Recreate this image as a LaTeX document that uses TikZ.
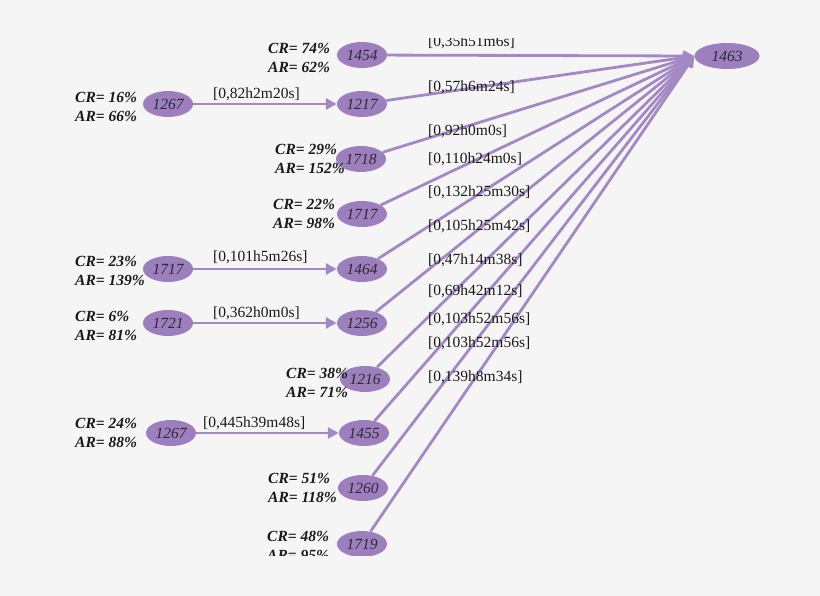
\documentclass[tikz,border=0pt]{standalone}
\usepackage{fontspec}
\setmainfont{Liberation Serif}
\usetikzlibrary{shapes.geometric,arrows.meta}
\definecolor{bg}{RGB}{245,245,246}
\definecolor{purp}{RGB}{157,127,190}
\definecolor{linec}{RGB}{163,136,196}
\definecolor{numc}{RGB}{45,40,55}
\definecolor{txt}{RGB}{25,25,25}
\tikzset{
  nd/.style={ellipse, fill=purp, draw=none, minimum width=50pt, minimum height=26pt, inner sep=0pt,
    font=\fontsize{15.5}{18}\selectfont\itshape, text=numc},
  big/.style={nd, minimum width=65pt},
  rates/.style={anchor=west, inner sep=0pt, align=left, text=txt,
    font=\fontsize{15.5}{19}\selectfont\bfseries\itshape},
  elab/.style={anchor=west, inner sep=0pt, text=txt, font=\fontsize{15.5}{18}\selectfont},
  edge/.style={draw=linec, line width=2.8pt, -{Triangle[length=11pt,width=11pt]}}
}
\begin{document}
\begin{tikzpicture}[x=1pt,y=-1pt]
\fill[bg] (0,0) rectangle (820,596);
\useasboundingbox (0,0) rectangle (820,596);
\begin{scope}
\clip (0,38.5) rectangle (820,555);
% target
\node[big] (t) at (727,56) {1463};
% middle column
\node[nd] (m1454) at (362,55) {1454};
\node[nd] (m1217) at (362,104) {1217};
\node[nd] (m1718) at (361,159) {1718};
\node[nd] (m1717) at (362,214) {1717};
\node[nd] (m1464) at (362,269) {1464};
\node[nd] (m1256) at (362,323) {1256};
\node[nd] (m1216) at (365,379) {1216};
\node[nd] (m1455) at (364,433) {1455};
\node[nd] (m1260) at (363,488) {1260};
\node[nd] (m1719) at (362,544) {1719};
% left column
\node[nd] (l1267a) at (168,104) {1267};
\node[nd] (l1717) at (168,269) {1717};
\node[nd] (l1721) at (168,323) {1721};
\node[nd] (l1267b) at (171,433) {1267};
% rate labels
\node[rates] (r1) at (75,106.5) {CR= 16\%\\AR= 66\%};
\node[rates] (r2) at (268,57.5) {CR= 74\%\\AR= 62\%};
\node[rates] (r3) at (275,158.5) {CR= 29\%\\AR= 152\%};
\node[rates] (r4) at (273,214) {CR= 22\%\\AR= 98\%};
\node[rates] (r5) at (75,271) {CR= 23\%\\AR= 139\%};
\node[rates] (r6) at (75,325.5) {CR= 6\%\\AR= 81\%};
\node[rates] (r7) at (286,382.5) {CR= 38\%\\AR= 71\%};
\node[rates] (r8) at (75,432.5) {CR= 24\%\\AR= 88\%};
\node[rates] (r9) at (268,488) {CR= 51\%\\AR= 118\%};
\node[rates] (r10) at (267,546) {CR= 48\%\\AR= 95\%};
% horizontal edges
\draw[edge] (l1267a) -- (m1217);
\draw[edge] (l1717) -- (m1464);
\draw[edge] (l1721) -- (m1256);
\draw[edge] (l1267b) -- (m1455);
\node[elab] (h1) at (213,94) {[0,82h2m20s]};
\node[elab] (h2) at (213,257) {[0,101h5m26s]};
\node[elab] (h3) at (213,313) {[0,362h0m0s]};
\node[elab] (h4) at (203,423) {[0,445h39m48s]};
% fan edges
\foreach \n in {m1454,m1217,m1718,m1717,m1464,m1256,m1216,m1455,m1260,m1719}
  \draw[edge] (\n) -- (t.west);
\node[elab] (f1) at (428,42.5) {[0,35h51m6s]};
\node[elab] (f2) at (428,87) {[0,57h6m24s]};
\node[elab] (f3) at (428,131) {[0,92h0m0s]};
\node[elab] (f4) at (428,159) {[0,110h24m0s]};
\node[elab] (f5) at (428,192) {[0,132h25m30s]};
\node[elab] (f6) at (428,226) {[0,105h25m42s]};
\node[elab] (f7) at (428,260) {[0,47h14m38s]};
\node[elab] (f8) at (428,291) {[0,69h42m12s]};
\node[elab] (f9) at (428,319) {[0,103h52m56s]};
\node[elab] (f10) at (428,343) {[0,103h52m56s]};
\node[elab] (f11) at (428,377) {[0,139h8m34s]};
\end{scope}
\end{tikzpicture}
\end{document}
